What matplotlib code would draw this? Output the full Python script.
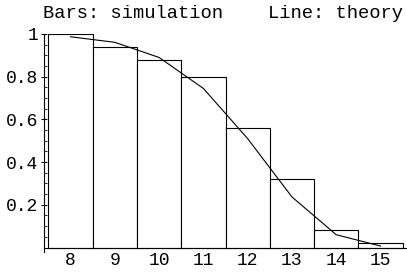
import matplotlib
matplotlib.use("Agg")
import matplotlib.pyplot as plt
from matplotlib.ticker import MultipleLocator

# data
lengths = [8, 9, 10, 11, 12, 13, 14, 15]
simulation = [1.0, 0.94, 0.88, 0.80, 0.56, 0.32, 0.08, 0.02]
theory = [0.987, 0.961, 0.89, 0.745, 0.51, 0.237, 0.06, 0.007]
ytick_vals = [0.2, 0.4, 0.6, 0.8, 1.0]
ytick_labels = ["0.2", "0.4", "0.6", "0.8", "1"]

mono = "Liberation Mono"

fig = plt.figure(figsize=(4.07, 2.73), dpi=100)
ax = fig.add_axes([0.1081, 0.0777, 0.892, 0.7978])

ax.bar(lengths, simulation, width=1.0, color="white", edgecolor="black", linewidth=0.8)
ax.plot(lengths, theory, color="black", linewidth=0.8)

ax.set_xlim(7.4, 15.6)
ax.set_ylim(-0.02, 1.0)

for s in ["top", "right"]:
    ax.spines[s].set_visible(False)
ax.spines["bottom"].set_position(("data", 0))
ax.spines["left"].set_linewidth(0.8)
ax.spines["bottom"].set_linewidth(0.8)

ax.set_xticks(lengths)
ax.set_xticklabels([str(v) for v in lengths], fontfamily=mono, fontsize=13)
ax.tick_params(axis="x", length=0, pad=3)

ax.set_yticks(ytick_vals)
ax.set_yticklabels(ytick_labels, fontfamily=mono, fontsize=13)
ax.yaxis.set_minor_locator(MultipleLocator(0.05))
ax.tick_params(axis="y", which="major", direction="inout", length=4, width=0.8, pad=2)
ax.tick_params(axis="y", which="minor", direction="in", length=2, width=0.6)

fig.text(0.548, 0.933, "Bars: simulation    Line: theory", ha="center", va="baseline",
         fontfamily=mono, fontsize=13.5)

fig.savefig("out.png", dpi=100)
